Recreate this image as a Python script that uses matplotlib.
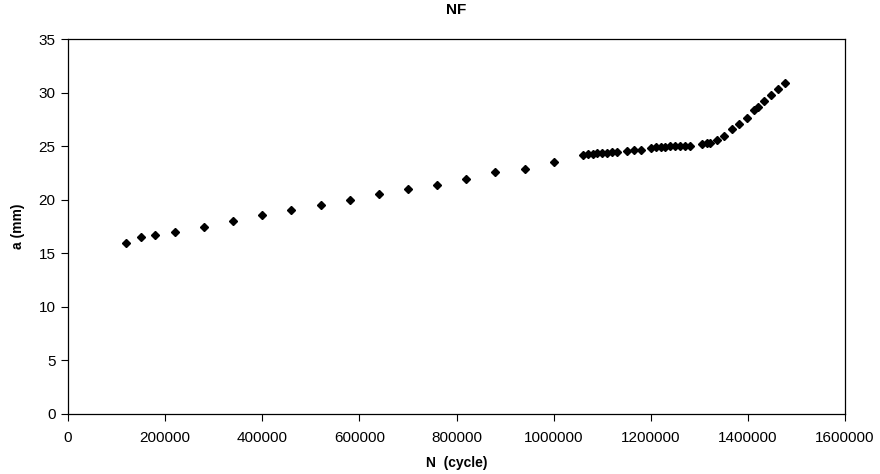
import matplotlib.pyplot as plt

plt.rcParams['font.family'] = ['Liberation Sans', 'DejaVu Sans']

# ciclos N y longitud de grieta a (mm)
ciclos = [120000, 150000, 180000, 220000, 280000, 340000, 400000, 460000,
          520000, 580000, 640000, 700000, 760000, 820000, 880000, 940000,
          1000000,
          1060000, 1070000, 1080000, 1090000, 1100000, 1110000, 1120000, 1130000,
          1150000, 1165000, 1180000,
          1200000, 1210000, 1220000, 1230000, 1240000, 1250000, 1260000, 1270000, 1280000,
          1305000, 1315000, 1322000, 1337000, 1350000, 1367000, 1382000, 1398000,
          1413000, 1420000, 1434000, 1448000, 1462000, 1476000]
grieta = [16.0, 16.55, 16.7, 17.0, 17.45, 18.05, 18.55, 19.05,
          19.55, 20.0, 20.5, 21.0, 21.35, 21.95, 22.55, 22.9,
          23.55,
          24.15, 24.25, 24.3, 24.35, 24.4, 24.4, 24.45, 24.5,
          24.55, 24.6, 24.6,
          24.8, 24.9, 24.95, 24.95, 25.0, 25.0, 25.0, 25.0, 25.0,
          25.2, 25.3, 25.3, 25.6, 25.95, 26.6, 27.1, 27.6,
          28.4, 28.7, 29.25, 29.8, 30.35, 30.9]

fig = plt.figure(figsize=(8.8, 4.74), dpi=100)
ax = fig.add_axes([0.0773, 0.1266, 0.8830, 0.7911])

ax.plot(ciclos, grieta, linestyle='none', marker='D', markersize=4.2,
        color='black')

ax.set_xlim(0, 1600000)
ax.set_ylim(0, 35)
ax.set_xticks(range(0, 1600001, 200000))
ax.set_yticks(range(0, 36, 5))
ax.ticklabel_format(style='plain', axis='x', useOffset=False)
ax.tick_params(direction='out', length=5, width=0.8, labelsize=11, colors='black')
ax.tick_params(axis='x', pad=7)
ax.tick_params(axis='y', pad=4)

ax.set_title('NF', fontsize=11, fontweight='bold', pad=18)
ax.set_xlabel('N  (cycle)', fontsize=10, fontweight='bold', labelpad=8)
ax.set_ylabel('a (mm)', fontsize=10, fontweight='bold', labelpad=10)

for s in ax.spines.values():
    s.set_linewidth(0.9)
    s.set_color('black')

fig.savefig('out.png', dpi=100)
